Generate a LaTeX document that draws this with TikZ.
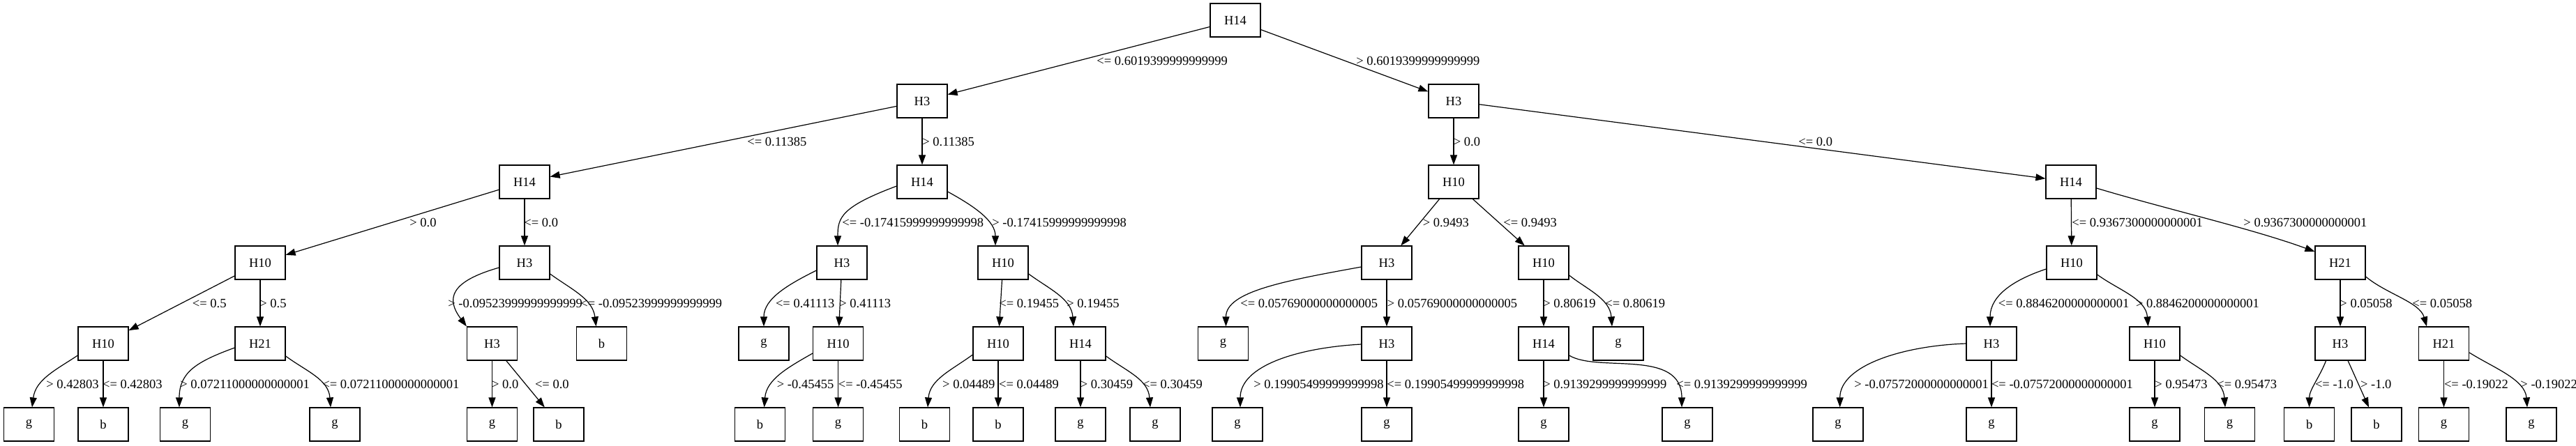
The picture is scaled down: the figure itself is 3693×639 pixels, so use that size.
\documentclass[tikz,border=0pt]{standalone}
\usepackage{fontspec}
\setmainfont{Liberation Serif}
\usetikzlibrary{arrows.meta,calc}
\begin{document}
\begin{tikzpicture}[x=0.5pt,y=-0.5pt,
  box/.style={draw,line width=0.6pt,minimum width=36pt,minimum height=24pt,inner sep=0pt,font=\fontsize{9.25pt}{11pt}\selectfont},
  edg/.style={line width=0.6pt,-{Triangle[length=7pt,width=5pt]}},
  lab/.style={anchor=base west,inner sep=0pt,font=\fontsize{9.25pt}{11pt}\selectfont}]
\useasboundingbox (0,0) rectangle (3693,639);
% row 0
\node[box] (n0) at (1771,29) {H14};
% row 1
\node[box] (n1) at (1322,145) {H3};
\node[box] (n2) at (2084,145) {H3};
% row 2
\node[box] (n3) at (752,261) {H14};
\node[box] (n4) at (1322,261) {H14};
\node[box] (n5) at (2084,261) {H10};
\node[box] (n6) at (2969,261) {H14};
% row 3
\node[box] (n7) at (373,377) {H10};
\node[box] (n8) at (752,377) {H3};
\node[box] (n9) at (1207,377) {H3};
\node[box] (n10) at (1438,377) {H10};
\node[box] (n11) at (1988,377) {H3};
\node[box] (n12) at (2213,377) {H10};
\node[box] (n13) at (2970,377) {H10};
\node[box] (n14) at (3355,377) {H21};
% row 4
\node[box] (n15) at (148,493) {H10};
\node[box] (n16) at (373,493) {H21};
\node[box] (n17) at (705.5,493) {H3};
\node[box] (n18) at (862.6,493) {b};
\node[box] (n19) at (1095,493) {g};
\node[box] (n20) at (1201.6,493) {H10};
\node[box] (n21) at (1431,493) {H10};
\node[box] (n22) at (1549,493) {H14};
\node[box] (n23) at (1753.5,493) {g};
\node[box] (n24) at (1988,493) {H3};
\node[box] (n25) at (2213,493) {H14};
\node[box] (n26) at (2320,493) {g};
\node[box] (n27) at (2855,493) {H3};
\node[box] (n28) at (3089,493) {H10};
\node[box] (n29) at (3355,493) {H3};
\node[box] (n30) at (3503.5,493) {H21};
% row 5
\node[box] (n31) at (41.5,609) {g};
\node[box] (n32) at (148,609) {b};
\node[box] (n33) at (265.6,609) {g};
\node[box] (n34) at (480,609) {g};
\node[box] (n35) at (705.5,609) {g};
\node[box] (n36) at (801,609) {b};
\node[box] (n37) at (1089.6,609) {b};
\node[box] (n38) at (1201.6,609) {g};
\node[box] (n39) at (1325.6,609) {b};
\node[box] (n40) at (1431,609) {b};
\node[box] (n41) at (1549,609) {g};
\node[box] (n42) at (1656,609) {g};
\node[box] (n43) at (1774,609) {g};
\node[box] (n44) at (1988,609) {g};
\node[box] (n45) at (2213,609) {g};
\node[box] (n46) at (2419,609) {g};
\node[box] (n47) at (2635,609) {g};
\node[box] (n48) at (2855,609) {g};
\node[box] (n49) at (3089,609) {g};
\node[box] (n50) at (3196.5,609) {g};
\node[box] (n51) at (3310.6,609) {b};
\node[box] (n52) at (3407,609) {b};
\node[box] (n53) at (3503.5,609) {g};
\node[box] (n54) at (3629,609) {g};

% straight edges
\draw[edg] (n0) -- (n1);
\draw[edg] (n0) -- (n2);
\draw[edg] (n1) -- (n3);
\draw[edg] (n1) -- (n4);
\draw[edg] (n2) -- (n5);
\draw[edg] (n2) -- (n6);
\draw[edg] (n3) -- (n7);
\draw[edg] (n3) -- (n8);
\draw[edg] (n5) -- (n11);
\draw[edg] (n5) -- (n12);
\draw[edg] (n6) -- (n13);
\draw[edg] (n7) -- (n15);
\draw[edg] (n7) -- (n16);
\draw[edg] (n9) -- (n20);
\draw[edg] (n10) -- (n21);
\draw[edg] (n11) -- (n24);
\draw[edg] (n12) -- (n25);
\draw[edg] (n14) -- (n29);
\draw[edg] (n15) -- (n32);
\draw[edg] (n17) -- (n35);
\draw[edg] (n17) -- (n36);
\draw[edg] (n20) -- (n38);
\draw[edg] (n21) -- (n40);
\draw[edg] (n22) -- (n41);
\draw[edg] (n24) -- (n44);
\draw[edg] (n25) -- (n45);
\draw[edg] (n27) -- (n48);
\draw[edg] (n28) -- (n49);
\draw[edg] (n29) -- (n52);
\draw[edg] (n30) -- (n53);

% curved edges
\draw[edg] ($(n4.west)+(0,6)$) .. controls +(-80,30) and +(0,-40) .. ($(n9.north)+(-6,0)$);
\draw[edg] ($(n4.east)+(0,14)$) .. controls +(40,22) and +(0,-35) .. ($(n10.north)+(-11,0)$);
\draw[edg] ($(n6.east)+(0,9)$) .. controls +(100,30) and +(-90,-33) .. ($(n14.west)+(0,-16)$);
\draw[edg] ($(n8.west)+(0,7)$) .. controls +(-70,20) and +(-30,-40) .. (n17.north west);
\draw[edg] ($(n8.east)+(0,16)$) .. controls +(30,22) and +(-5,-40) .. ($(n18.north)+(-8,0)$);
\draw[edg] ($(n9.west)+(0,11)$) .. controls +(-40,20) and +(0,-40) .. (n19.north);
\draw[edg] ($(n10.east)+(0,16)$) .. controls +(30,22) and +(-3,-40) .. ($(n22.north)+(-10,0)$);
\draw[edg] ($(n11.west)+(0,6)$) .. controls +(-110,20) and +(0,-50) .. ($(n23.north)+(4,0)$);
\draw[edg] ($(n12.east)+(0,18)$) .. controls +(25,20) and +(-3,-40) .. ($(n26.north)+(-9,0)$);
\draw[edg] ($(n13.west)+(0,9)$) .. controls +(-45,15) and +(0,-45) .. ($(n27.north)+(-2,0)$);
\draw[edg] ($(n13.east)+(0,17)$) .. controls +(30,22) and +(-3,-40) .. ($(n28.north)+(-9.5,0)$);
\draw[edg] ($(n14.east)+(0,20)$) .. controls +(30,25) and +(-10,-35) .. ($(n30.north)+(-24.5,0)$);
\draw[edg] ($(n15.west)+(0,17)$) .. controls +(-30,20) and +(5,-40) .. ($(n31.north)+(4.5,0)$);
\draw[edg] ($(n16.west)+(0,6)$) .. controls +(-55,20) and +(0,-50) .. ($(n33.north)+(-8.6,0)$);
\draw[edg] ($(n16.east)+(0,18)$) .. controls +(30,22) and +(-3,-40) .. ($(n34.north)+(-6,0)$);
\draw[edg] ($(n20.west)+(0,14)$) .. controls +(-35,20) and +(3,-40) .. ($(n37.north)+(6,0)$);
\draw[edg] ($(n21.west)+(0,16)$) .. controls +(-30,22) and +(3,-40) .. ($(n39.north)+(4.4,0)$);
\draw[edg] ($(n22.east)+(0,18)$) .. controls +(30,22) and +(-3,-40) .. ($(n42.north)+(-7,0)$);
\draw[edg] ($(n24.west)+(0,1)$) .. controls +(-90,5) and +(0,-60) .. ($(n43.north)+(4,0)$);
\draw[edg] ($(n25.east)+(0,17)$) .. controls +(41,25) and +(0,-85) .. ($(n46.north)+(-8,0)$);
\draw[edg] (n27.west) .. controls +(-90,3) and +(0,-60) .. ($(n47.north)+(2.7,0)$);
\draw[edg] ($(n28.east)+(0,17)$) .. controls +(30,22) and +(-3,-40) .. ($(n50.north)+(-6.5,0)$);
\draw[edg] ($(n29.south)+(-20.4,0)$) .. controls +(-10,25) and +(0,-25) .. (n51.north);
\draw[edg] ($(n30.east)+(0,13)$) .. controls +(35,22) and +(-3,-40) .. ($(n54.north)+(-6,0)$);

% labels level 0-1
\node[lab] (l1) at (1572,93) {<= 0.6019399999999999};
\node[lab] (l2) at (1944,93) {> 0.6019399999999999};
% level 1-2
\node[lab] (l3) at (1071,209) {<= 0.11385};
\node[lab] (l4) at (1322,209) {> 0.11385};
\node[lab] (l5) at (2083.5,209) {> 0.0};
\node[lab] (l6) at (2578,209) {<= 0.0};
% level 2-3
\node[lab] (l7) at (587,325) {> 0.0};
\node[lab] (l8) at (751,325) {<= 0.0};
\node[lab] (l9) at (1207,325) {<= -0.17415999999999998};
\node[lab] (l10) at (1422,325) {> -0.17415999999999998};
\node[lab] (l11) at (2039.5,325) {> 0.9493};
\node[lab] (l12) at (2155,325) {<= 0.9493};
\node[lab] (l13) at (2970,325) {<= 0.9367300000000001};
\node[lab] (l14) at (3216,325) {> 0.9367300000000001};
% level 3-4
\node[lab] (l15) at (275.5,441) {<= 0.5};
\node[lab] (l16) at (372,441) {> 0.5};
\node[lab] (l17) at (642,441) {> -0.09523999999999999};
\node[lab] (l18) at (832,441) {<= -0.09523999999999999};
\node[lab] (l19) at (1111.6,441) {<= 0.41113};
\node[lab] (l20) at (1203,441) {> 0.41113};
\node[lab] (l21) at (1432,441) {<= 0.19455};
\node[lab] (l22) at (1529,441) {> 0.19455};
\node[lab] (l23) at (1778,441) {<= 0.05769000000000005};
\node[lab] (l24) at (1988.5,441) {> 0.05769000000000005};
\node[lab] (l25) at (2212,441) {> 0.80619};
\node[lab] (l26) at (2301,441) {<= 0.80619};
\node[lab] (l27) at (2864.5,441) {<= 0.8846200000000001};
\node[lab] (l28) at (3061.6,441) {> 0.8846200000000001};
\node[lab] (l29) at (3354,441) {> 0.05058};
\node[lab] (l30) at (3458,441) {<= 0.05058};
% level 4-5
\node[lab] (l31) at (66,557) {> 0.42803};
\node[lab] (l32) at (146.7,557) {<= 0.42803};
\node[lab] (l33) at (258,557) {> 0.07211000000000001};
\node[lab] (l34) at (462,557) {<= 0.07211000000000001};
\node[lab] (l35) at (704.7,557) {> 0.0};
\node[lab] (l36) at (766.6,557) {<= 0.0};
\node[lab] (l37) at (1113.5,557) {> -0.45455};
\node[lab] (l38) at (1201.5,557) {<= -0.45455};
\node[lab] (l39) at (1350.8,557) {> 0.04489};
\node[lab] (l40) at (1431.8,557) {<= 0.04489};
\node[lab] (l41) at (1548.5,557) {> 0.30459};
\node[lab] (l42) at (1637.8,557) {<= 0.30459};
\node[lab] (l43) at (1797,557) {> 0.19905499999999998};
\node[lab] (l44) at (1988,557) {<= 0.19905499999999998};
\node[lab] (l45) at (2212,557) {> 0.9139299999999999};
\node[lab] (l46) at (2403,557) {<= 0.9139299999999999};
\node[lab] (l47) at (2658,557) {> -0.07572000000000001};
\node[lab] (l48) at (2854.6,557) {<= -0.07572000000000001};
\node[lab] (l49) at (3089,557) {> 0.95473};
\node[lab] (l50) at (3178,557) {<= 0.95473};
\node[lab] (l51) at (3318.6,557) {<= -1.0};
\node[lab] (l52) at (3383.7,557) {> -1.0};
\node[lab] (l53) at (3503.6,557) {<= -0.19022};
\node[lab] (l54) at (3613,557) {> -0.19022};
\end{tikzpicture}
\end{document}
